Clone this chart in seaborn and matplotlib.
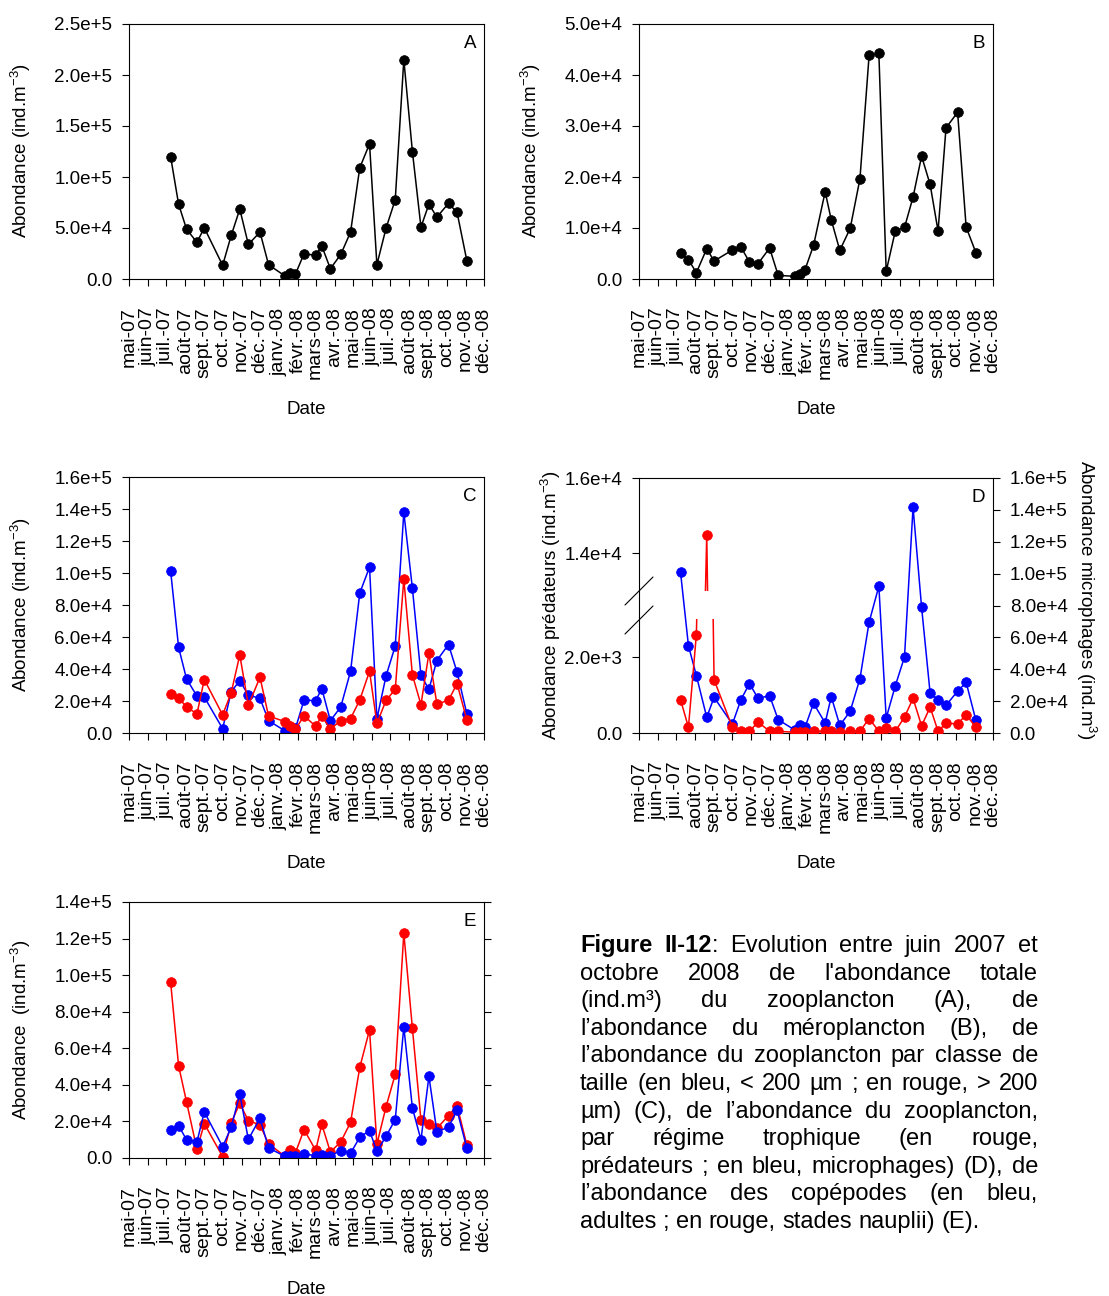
import matplotlib
matplotlib.use("Agg")
import numpy as np
import pandas as pd
import matplotlib.pyplot as plt
import matplotlib.dates as mdates
from matplotlib.ticker import FuncFormatter
from matplotlib.lines import Line2D
from matplotlib.transforms import IdentityTransform
import seaborn as sns

# ---------------------------------------------------------------- data
sample_dates = pd.to_datetime([
    "2007-07-08", "2007-07-21", "2007-08-03", "2007-08-20", "2007-09-01",
    "2007-10-01", "2007-10-15", "2007-10-29", "2007-11-12", "2007-12-01",
    "2007-12-15", "2008-01-11", "2008-01-19", "2008-01-28", "2008-02-11",
    "2008-03-01", "2008-03-11", "2008-03-25", "2008-04-11", "2008-04-27",
    "2008-05-12", "2008-05-28", "2008-06-09", "2008-06-24", "2008-07-09",
    "2008-07-23", "2008-08-06", "2008-08-20", "2008-09-02", "2008-09-15",
    "2008-10-04", "2008-10-18", "2008-11-03"])

month_labels = ["mai-07", "juin-07", "juil.-07", "août-07", "sept.-07", "oct.-07",
                "nov.-07", "déc.-07", "janv.-08", "févr.-08", "mars-08", "avr.-08",
                "mai-08", "juin-08", "juil.-08", "août-08", "sept.-08", "oct.-08",
                "nov.-08", "déc.-08"]

# A: total zooplankton
zoo_total = [120000, 73400, 48900, 35900, 50200, 13400, 42700, 68500, 33900, 46000,
             14000, 2900, 6200, 4900, 24800, 23200, 32300, 10100, 24100, 46000,
             109000, 132500, 14000, 49900, 77700, 215000, 125000, 50900, 73400, 60700,
             74100, 65300, 17900]
# B: meroplankton
meroplankton = [5090, 3780, 1240, 5940, 3520, 5680, 6260, 3330, 3000, 6070,
                720, 520, 980, 1830, 6590, 17100, 11600, 5610, 9920, 19640,
                43850, 44240, 1500, 9460, 10100, 16050, 24080, 18530, 9400, 29630,
                32690, 10180, 5150]
# C: size classes
size_small = [101400, 53600, 33800, 23100, 22500, 2700, 25900, 32700, 23600, 21700,
              7700, 1300, 4000, 2900, 20600, 20200, 27700, 7700, 16300, 38600,
              87400, 103700, 8800, 35700, 54400, 137900, 90500, 36100, 27300, 45300,
              55300, 38000, 11900]
size_large = [24400, 21900, 16300, 11900, 33400, 11300, 25200, 48800, 17300, 34800,
              10600, 7100, 4400, 2300, 10800, 4200, 10600, 2500, 7700, 9000,
              20600, 38600, 6000, 20400, 27300, 96100, 36300, 17700, 49800, 18100,
              20400, 30900, 8100]
# D: trophic groups
predators = [880, 150, 2590, 14490, 1400, 150, 45, 45, 290, 45,
             45, 20, 20, 20, 45, 45, 45, 20, 45, 45,
             380, 45, 130, 45, 420, 910, 190, 680, 45, 260,
             240, 480, 150]
microphages = [101050, 54800, 36000, 9800, 22400, 5600, 20900, 31000, 21800, 23400,
               8400, 1900, 5200, 3600, 18600, 6300, 22800, 4800, 13600, 34100,
               69500, 92100, 9400, 29700, 47700, 141600, 78900, 24900, 20700, 17400,
               26200, 31800, 7900]
# E: copepods
copepod_adults = [15100, 17700, 10000, 8800, 25200, 6200, 16800, 35000, 10200, 21700,
                  5500, 900, 900, 1100, 2200, 1300, 1800, 1300, 4000, 2600,
                  11300, 15000, 3600, 11900, 21000, 71700, 27400, 9900, 44700, 14400,
                  16800, 26100, 5300]
copepod_nauplii = [96200, 50500, 30700, 4700, 18800, 700, 19300, 29900, 20400, 18100,
                   7800, 900, 4200, 2900, 15500, 4200, 18400, 3300, 8800, 19500,
                   49500, 70100, 7500, 28100, 45800, 123000, 71000, 20600, 18400, 16200,
                   23200, 28600, 7100]

caption_lines = [
    "**Figure II-12**: Evolution entre juin 2007 et",
    "octobre 2008 de l'abondance totale",
    "(ind.m³) du zooplancton (A), de",
    "l’abondance du méroplancton (B), de",
    "l’abondance du zooplancton par classe de",
    "taille (en bleu, < 200 µm ; en rouge, > 200",
    "µm) (C), de l’abondance du zooplancton,",
    "par régime trophique (en rouge,",
    "prédateurs ; en bleu, microphages) (D), de",
    "l’abondance des copépodes (en bleu,",
    "adultes ; en rouge, stades nauplii) (E).",
]

# ---------------------------------------------------------------- style
sns.set_style("ticks")
plt.rcParams["font.family"] = ["Liberation Sans", "DejaVu Sans"]
plt.rcParams["axes.edgecolor"] = "black"
plt.rcParams["axes.linewidth"] = 0.8
plt.rcParams["text.color"] = "black"
plt.rcParams["axes.labelcolor"] = "black"
plt.rcParams["xtick.color"] = "black"
plt.rcParams["ytick.color"] = "black"
plt.rcParams["xtick.labelcolor"] = "black"
plt.rcParams["ytick.labelcolor"] = "black"

BLUE, RED, BLACK = "#0000FF", "#FF0000", "#000000"
W, H = 1109, 1296
fig = plt.figure(figsize=(W / 100, H / 100), dpi=100)

x_start, x_end = pd.Timestamp("2007-05-01"), pd.Timestamp("2008-12-01")
month_ticks = mdates.date2num(pd.date_range(x_start, x_end, freq="MS"))


def box(l, t, r, b):
    return [l / W, 1 - b / H, (r - l) / W, (b - t) / H]


def sci(v, pos=None):
    if v == 0:
        return "0.0"
    m, e = f"{v:.1e}".split("e")
    return f"{m}e{e[0]}{int(e[1:])}"


def draw(ax, values, color):
    sns.lineplot(x=sample_dates, y=values, ax=ax, color=color, marker="o",
                 markersize=7, markeredgecolor=color, markeredgewidth=0.5,
                 linewidth=1.1, estimator=None)


def dress(ax, ymax, step):
    ax.set_xlim(mdates.date2num(x_start), mdates.date2num(x_end))
    ax.set_xticks(month_ticks)
    ax.set_xticklabels(month_labels, rotation=90)
    ax.set_ylim(0, ymax)
    ax.set_yticks(np.arange(0, ymax + step / 2, step))
    ax.yaxis.set_major_formatter(FuncFormatter(sci))
    ax.tick_params(axis="x", length=5, width=0.8, pad=15.5, labelsize=14,
                   color="black", labelcolor="black")
    ax.tick_params(axis="y", length=5, width=0.8, pad=7, labelsize=13.5,
                   color="black", labelcolor="black")
    ax.set_xlabel("")
    ax.set_ylabel("")
    for s in ax.spines.values():
        s.set_visible(True)
        s.set_color("black")
        s.set_linewidth(0.8)


def letter(ax, s):
    ax.annotate(s, xy=(1, 1), xycoords="axes fraction", xytext=(-8, -11),
                textcoords="offset pixels", ha="right", va="top", fontsize=13.5,
                color="black")


def ylab(x, y, s, rot=90):
    fig.text(x / W, 1 - y / H, s, rotation=rot, ha="center", va="center",
             fontsize=13.5, color="black")


def xlab(x, y):
    fig.text(x / W, 1 - y / H, "Date", ha="center", va="center", fontsize=13.5,
             color="black")


unit = r"(ind.m$\mathregular{^{-3}}$)"

# A
axA = fig.add_axes(box(129, 24, 484, 279))
draw(axA, zoo_total, BLACK)
dress(axA, 250000, 50000)
letter(axA, "A")
ylab(21, 151, "Abondance " + unit)
xlab(306.5, 409)

# B
axB = fig.add_axes(box(639, 24, 993, 279))
draw(axB, meroplankton, BLACK)
dress(axB, 50000, 10000)
letter(axB, "B")
ylab(531, 151, "Abondance " + unit)
xlab(816, 409)

# C
axC = fig.add_axes(box(129, 477, 484, 733))
draw(axC, size_small, BLUE)
draw(axC, size_large, RED)
dress(axC, 160000, 20000)
letter(axC, "C")
ylab(21, 605, "Abondance " + unit)
xlab(306.5, 864)

# D : microphages on the right axis, predators on a broken left axis
axD = fig.add_axes(box(639, 478, 993, 733))
draw(axD, microphages, BLUE)
dress(axD, 160000, 20000)
axD.yaxis.tick_right()
axD.tick_params(axis="y", left=False, labelleft=False, right=True, labelright=True)
letter(axD, "D")

for (t, b, lo, hi, ticks) in [(619, 733, 0, 3000, [0, 2000]),
                              (478, 591, 13000, 16000, [14000, 16000])]:
    axp = fig.add_axes(box(639, t, 993, b))
    axp.patch.set_visible(False)
    draw(axp, predators, RED)
    axp.set_xlim(mdates.date2num(x_start), mdates.date2num(x_end))
    axp.set_ylim(lo, hi)
    axp.set_yticks(ticks)
    axp.yaxis.set_major_formatter(FuncFormatter(sci))
    axp.tick_params(axis="y", length=5, width=0.8, pad=7, labelsize=13.5,
                    color="black", labelcolor="black")
    axp.tick_params(axis="x", bottom=False, labelbottom=False)
    axp.set_xlabel("")
    axp.set_ylabel("")
    for s in axp.spines.values():
        s.set_visible(False)

# axis break marks
for (x0, y0, x1, y1) in [(625, 605, 653, 577), (625, 634, 653, 606)]:
    fig.add_artist(Line2D([x0 / W, x1 / W], [1 - y0 / H, 1 - y1 / H],
                          transform=fig.transFigure, color="black", linewidth=0.8))

ylab(551, 605, "Abondance prédateurs " + unit)
ylab(1086, 600, r"Abondance microphages (ind.m$\mathregular{^{3}}$)", rot=-90)
xlab(816, 864)

# E
axE = fig.add_axes(box(129, 902, 484, 1158))
draw(axE, copepod_nauplii, RED)
draw(axE, copepod_adults, BLUE)
dress(axE, 140000, 20000)
axE.tick_params(axis="y", right=True, labelright=False)
letter(axE, "E")
ylab(21, 1030, "Abondance  " + unit)
xlab(306.5, 1289)

# ---------------------------------------------------------------- caption (justified)
renderer = fig.canvas.get_renderer()
cap_left, cap_right = 580, 1038
base_y, line_h, cap_size = 952, 27.6, 17
ident = IdentityTransform()
bold = False
for i, line in enumerate(caption_lines):
    y = H - (base_y + i * line_h)
    words = []
    for w in line.split():
        segs = []
        for k, part in enumerate(w.split("**")):
            if k > 0:
                bold = not bold
            if part:
                t = fig.text(0, y, part, transform=ident, fontsize=cap_size,
                             fontweight="bold" if bold else "normal",
                             ha="left", va="baseline", color="black")
                segs.append((t, t.get_window_extent(renderer).width))
        words.append(segs)
    widths = [sum(wd for _, wd in segs) for segs in words]
    last = i == len(caption_lines) - 1
    if last or len(words) == 1:
        gap = cap_size * 100 / 72 * 0.278
    else:
        gap = (cap_right - cap_left - sum(widths)) / (len(words) - 1)
    x = cap_left
    for segs, wd in zip(words, widths):
        xx = x
        for t, w_ in segs:
            t.set_x(xx)
            xx += w_
        x += wd + gap

fig.savefig("out.png", dpi=100)
